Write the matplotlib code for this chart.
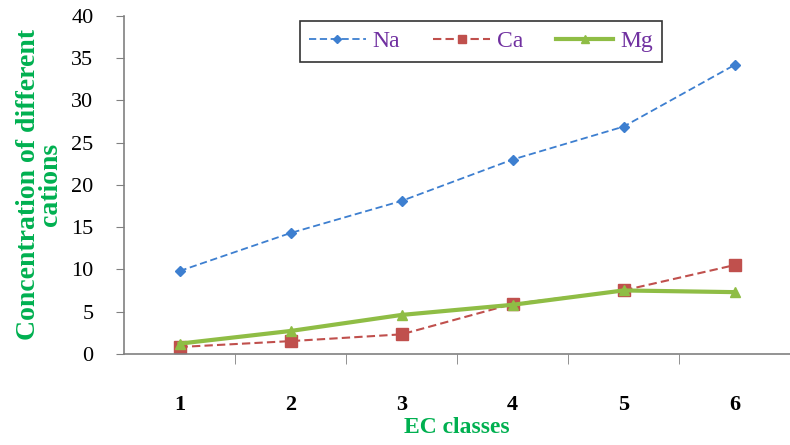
import matplotlib
matplotlib.use("Agg")
import matplotlib.pyplot as plt
import numpy as np

plt.rcParams['font.family'] = ['Liberation Serif', 'DejaVu Serif']

ec_classes = [1, 2, 3, 4, 5, 6]
na = [9.8, 14.3, 18.1, 23.0, 26.9, 34.2]
ca = [0.8, 1.5, 2.3, 5.9, 7.5, 10.5]
mg = [1.2, 2.7, 4.6, 5.8, 7.5, 7.3]

fig = plt.figure(figsize=(7.9, 4.45), dpi=100)
ax = fig.add_axes([0.157, 0.205, 0.843, 0.759])

ax.plot(ec_classes, na, color='#3d7fd0', linestyle=(0, (4, 2)), linewidth=1.3,
        marker='D', markersize=5, label='Na')
ax.plot(ec_classes, ca, color='#c0504d', linestyle=(0, (4, 2)), linewidth=1.5,
        marker='s', markersize=8, label='Ca')
ax.plot(ec_classes, mg, color='#8fbd45', linestyle='-', linewidth=3,
        marker='^', markersize=7, label='Mg')

ax.set_xlim(0.5, 6.5)
ax.set_ylim(0, 40)
ax.set_yticks(np.arange(0, 41, 5))
ax.set_xticks(ec_classes)
ax.set_xticks(np.arange(1.5, 6.5, 1), minor=True)
ax.tick_params(axis='x', which='major', length=0, pad=30, labelsize=16)
ax.tick_params(axis='x', which='minor', length=7, direction='out', color='#808080')
ax.tick_params(axis='y', length=6, direction='out', color='#808080', labelsize=16, pad=16)
for lbl in ax.get_xticklabels():
    lbl.set_fontweight('bold')

for side in ['top', 'right']:
    ax.spines[side].set_visible(False)
for side in ['left', 'bottom']:
    ax.spines[side].set_color('#808080')
    ax.spines[side].set_linewidth(1.2)

ax.set_xlabel('EC classes', color='#00b050', fontweight='bold', fontsize=17, labelpad=1)
ax.set_ylabel('Concentration of different\ncations', color='#00b050', fontweight='bold',
              fontsize=20, labelpad=6, linespacing=0.85)

leg = ax.legend(loc='upper center', bbox_to_anchor=(0.536, 0.985), ncol=3, frameon=True,
                fancybox=False, edgecolor='black', fontsize=17, handlelength=2.4,
                handletextpad=0.3, columnspacing=1.4, borderpad=0.4, borderaxespad=0,
                markerscale=0.8)
leg.get_frame().set_linewidth(1.2)
for txt in leg.get_texts():
    txt.set_color('#7030a0')

fig.savefig('out.png', dpi=100)
